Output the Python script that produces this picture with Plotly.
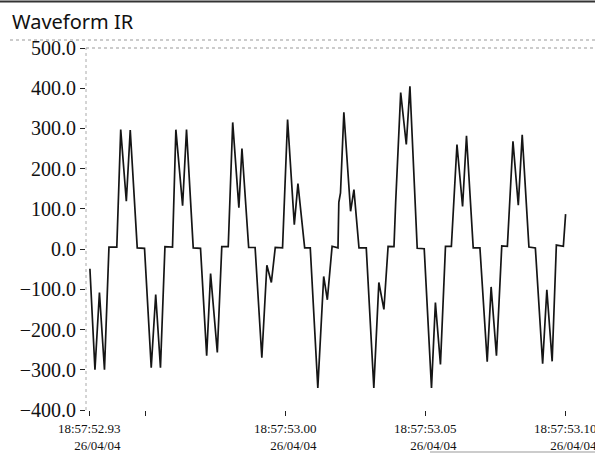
import plotly.graph_objects as go

# time in ms after 18:57:52.930
time_ms = [0.0, 1.8, 3.4, 5.2, 6.8, 9.6, 11.0, 13.0, 14.4, 16.9, 19.5, 21.9, 23.5, 25.2,
           26.8, 29.5, 30.7, 33.1, 34.5, 36.9, 39.5, 41.7, 43.1, 45.5, 47.1, 49.4, 51.0,
           53.2, 54.3, 56.7, 59.0, 61.4, 63.2, 64.8, 66.2, 68.8, 70.6, 73.0, 74.3, 76.7,
           78.7, 81.4, 83.5, 84.8, 86.5, 88.6, 88.9, 89.5, 90.7, 93.1, 94.3, 96.1, 98.7,
           101.4, 103.2, 105.0, 106.5, 108.6, 109.2, 111.0, 113.0, 114.3, 116.9, 119.4,
           122.0, 123.4, 125.2, 127.0, 129.1, 131.1, 133.1, 134.5, 136.9, 139.3, 141.9,
           143.3, 145.2, 147.1, 149.1, 151.1, 153.0, 154.4, 156.8, 159.1, 161.7, 163.2,
           165.1, 166.6, 169.1, 169.9]
current = [-49, -300, -108, -300, 5, 5, 297, 119, 296, 3, 2, -295, -113, -295,
           6, 5, 297, 108, 297, 3, 2, -265, -61, -257, 6, 6, 315,
           103, 250, 4, 4, -270, -40, -83, 4, 3, 322, 61, 163, 3,
           3, -345, -68, -126, 7, 3, 116, 140, 340, 94, 148, 3, 3,
           -345, -83, -150, 7, 6, 116, 389, 260, 405, 2, 1,
           -345, -133, -287, 7, 7, 260, 106, 282, 3, 3, -280,
           -94, -265, 8, 7, 268, 109, 284, 5, 3, -285, -101,
           -279, 10, 7, 87]

tick_ms = [0, 20, 70, 120, 170]
label_ms = [0, 70, 120, 170]
label_time = ["18:57:52.93", "18:57:53.00", "18:57:53.05", "18:57:53.10"]
label_date = ["26/04/04", "26/04/04", "26/04/04", "26/04/04"]
y_ticks = [-400, -300, -200, -100, 0, 100, 200, 300, 400, 500]

fig = go.Figure()
fig.add_trace(go.Scatter(x=time_ms, y=current, mode="lines",
                         line=dict(color="#151515", width=1.7), showlegend=False))

W, H = 595, 455
ml, mr, mt, mb = 86, 0, 48, 45
pw = W - ml - mr
ph = H - mt - mb

fig.update_layout(
    width=W, height=H,
    margin=dict(l=ml, r=mr, t=mt, b=mb),
    paper_bgcolor="white", plot_bgcolor="white",
    title=dict(text="Waveform IR", x=12 / W, xanchor="left", xref="container",
               y=1 - 15 / H, yanchor="top", yref="container",
               font=dict(family="Noto Sans", size=20, color="#111")),
    xaxis=dict(range=[-1.4, 180.4], tickvals=tick_ms, showticklabels=False,
               ticks="outside", ticklen=5, tickcolor="#222", showgrid=False,
               zeroline=False, showline=False),
    yaxis=dict(range=[-400, 500], tickvals=y_ticks, tickformat=".1f",
               ticks="outside", ticklen=5, tickcolor="#222", showgrid=False,
               zeroline=False, showline=False,
               tickfont=dict(family="Liberation Serif", size=20, color="#111")),
)

for t, lt, ld in zip(label_ms, label_time, label_date):
    fig.add_annotation(x=t, xref="x", y=0, yref="paper", yanchor="top", yshift=-9,
                       text=lt + "<br>" + ld, showarrow=False, align="right",
                       font=dict(family="Liberation Serif", size=13, color="#111"))

def px_x(p):
    return (p - ml) / pw

def px_y(p):
    return (H - mb - p) / ph

# frame lines
fig.add_shape(type="line", xref="paper", yref="paper", x0=px_x(0), x1=px_x(W),
              y0=px_y(1.5), y1=px_y(1.5), line=dict(color="#333", width=2))
fig.add_shape(type="line", xref="paper", yref="paper", x0=px_x(10), x1=px_x(W),
              y0=px_y(40), y1=px_y(40), line=dict(color="#999", width=1, dash="dot"))
fig.add_shape(type="line", xref="paper", yref="paper", x0=0, x1=1,
              y0=1, y1=1, line=dict(color="#999", width=1, dash="dot"))
fig.add_shape(type="line", xref="paper", yref="paper", x0=0, x1=0,
              y0=0, y1=1, line=dict(color="#aaa", width=1, dash="dot"))
fig.add_shape(type="line", xref="paper", yref="paper", x0=px_x(430), x1=px_x(W),
              y0=px_y(452), y1=px_y(452), line=dict(color="#999", width=1))

fig.write_html("out.html")
